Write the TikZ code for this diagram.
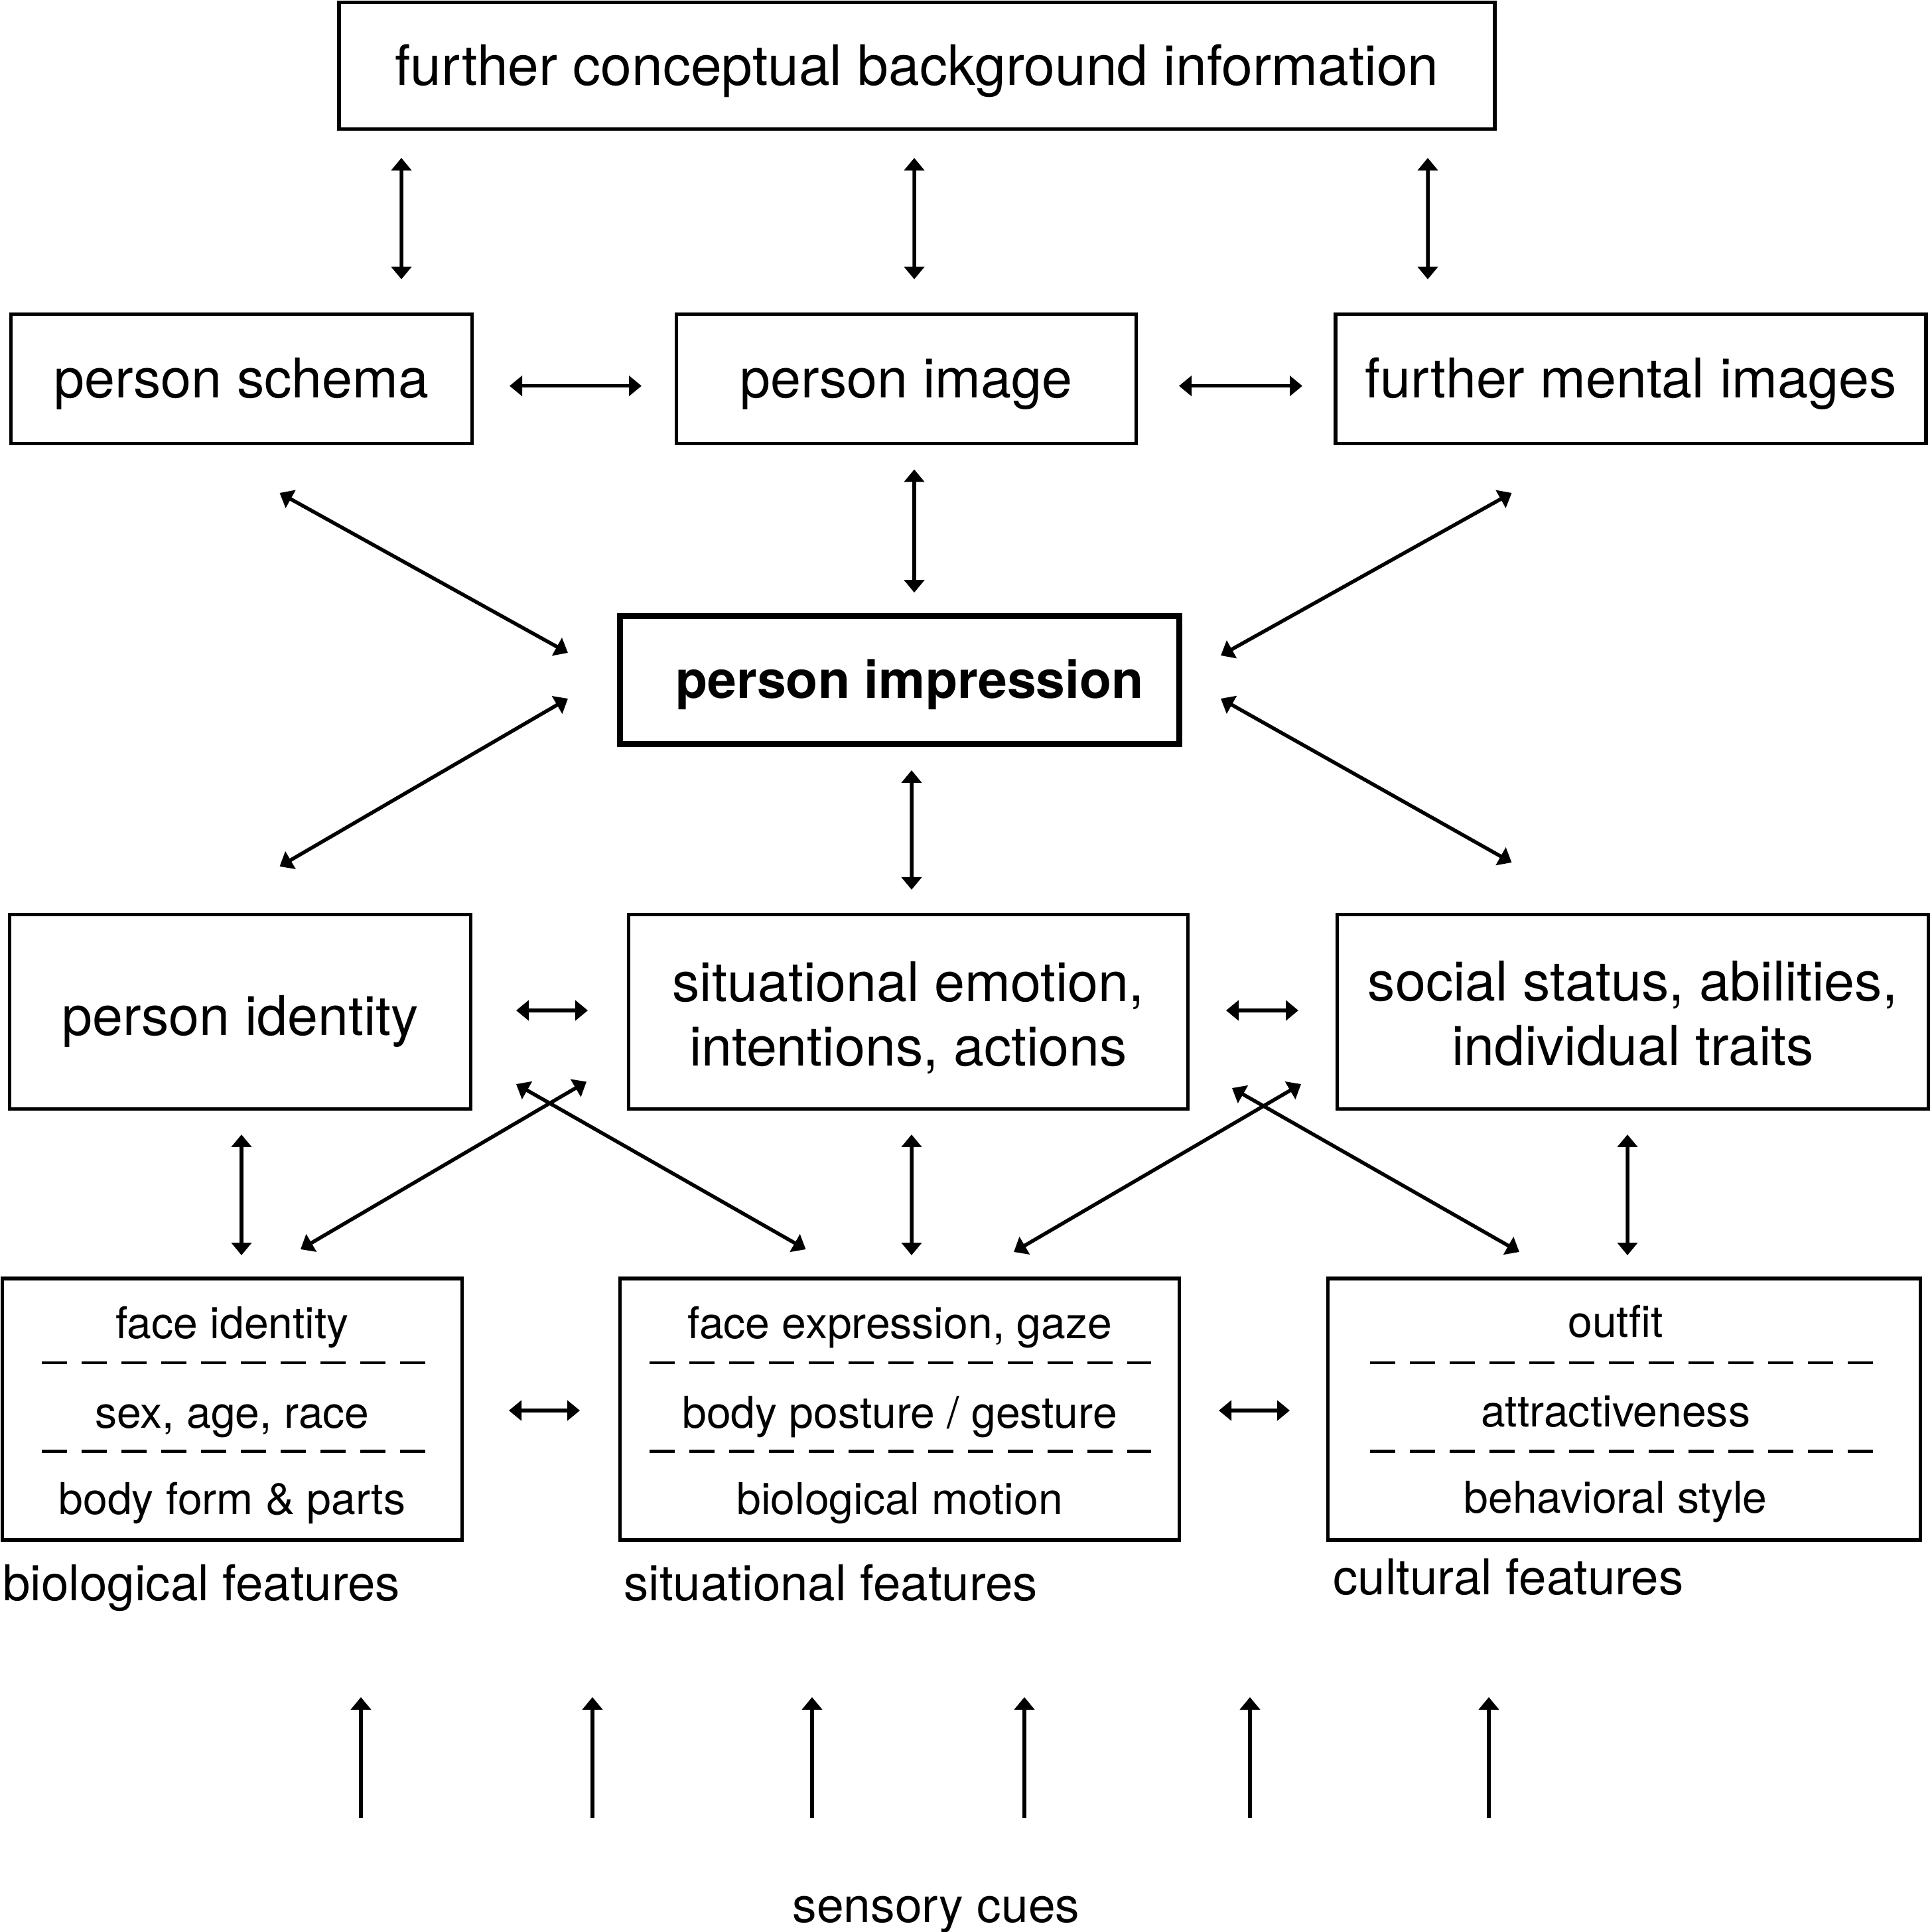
\documentclass[tikz,border=0pt]{standalone}
\usepackage{fontspec}
\setmainfont{TeX Gyre Heros}
\usetikzlibrary{arrows.meta, calc}

\begin{document}
\begin{tikzpicture}[
  box/.style={draw, line width=0.055cm, outer sep=0pt, inner sep=0pt, align=center,
              font=\fontsize{23.5}{27.5}\selectfont, minimum height=1.95cm,
              execute at begin node={\rule{0pt}{0.915em}}},
  big/.style={box, minimum height=2.93cm},
  feat/.style={box, minimum height=3.94cm},
  featitem/.style={font=\fontsize{18.8}{22}\selectfont, text height=0.75em, text depth=0.22em},
  lab/.style={anchor=base west, font=\fontsize{21.2}{25}\selectfont},
  dashsep/.style={line width=0.045cm, dash pattern=on 0.38cm off 0.22cm},
  arr/.style={{Triangle[length=0.19cm,width=0.30cm]}-{Triangle[length=0.19cm,width=0.30cm]}, line width=0.055cm},
  cuearr/.style={-{Triangle[length=0.19cm,width=0.30cm]}, line width=0.055cm}
]
\useasboundingbox (0,0) rectangle (29.12,29.11);

% top row
\node[box, minimum width=17.42cm, minimum height=1.91cm, font=\fontsize{23.9}{28}\selectfont] (top) at (13.82,28.12) {further conceptual background information};
\node[box, minimum width=6.95cm] (sch) at (3.64,23.40) {person schema};
\node[box, minimum width=6.93cm] (img) at (13.66,23.40) {person image};
\node[box, minimum width=8.90cm] (men) at (24.58,23.40) {further mental images};

\node[box, line width=0.085cm, minimum width=8.43cm, minimum height=1.93cm,
      font=\fontsize{22.4}{26}\selectfont\bfseries] (imp) at (13.56,18.86) {\hspace{0.3cm}person impression};

% middle row
\node[big, minimum width=6.95cm] (ide) at (3.62,13.86) {\rule{0pt}{1.08em}person identity};
\node[big, minimum width=8.43cm] (sit) at (13.69,13.86) {\rule{0pt}{0.943em}situational emotion,\\intentions, actions};
\node[big, minimum width=8.91cm] (soc) at (24.61,13.86) {\rule{0pt}{0.79em}social status, abilities,\\individual traits};

% feature boxes
\node[feat, minimum width=6.93cm] (bio) at (3.50,7.87) {};
\node[feat, minimum width=8.43cm] (sfe) at (13.56,7.87) {};
\node[feat, minimum width=8.93cm] (cul) at (24.48,7.87) {};

\node[featitem] (bio1) at ($(bio)+(0,1.16)$) {face identity};
\node[featitem] (bio2) at ($(bio)+(0,-0.19)$) {sex, age, race};
\node[featitem] (bio3) at ($(bio)+(0,-1.49)$) {body form \& parts};
\node[featitem] (sfe1) at ($(sfe)+(0,1.16)$) {face expression, gaze};
\node[featitem] (sfe2) at ($(sfe)+(0,-0.19)$) {body posture / gesture};
\node[featitem] (sfe3) at ($(sfe)+(0,-1.49)$) {biological motion};
\node[featitem] (cul1) at ($(cul)+(-0.13,1.18)$) {outfit};
\node[featitem] (cul2) at ($(cul)+(-0.13,-0.17)$) {attractiveness};
\node[featitem] (cul3) at ($(cul)+(-0.13,-1.47)$) {behavioral style};

\draw[dashsep] ($(bio.west)+(0.595,0.70)$) -- ($(bio.east)+(-0.54,0.70)$);
\draw[dashsep] ($(bio.west)+(0.595,-0.635)$) -- ($(bio.east)+(-0.54,-0.635)$);
\draw[dashsep] ($(sfe.west)+(0.44,0.70)$) -- ($(sfe.east)+(-0.43,0.70)$);
\draw[dashsep] ($(sfe.west)+(0.44,-0.635)$) -- ($(sfe.east)+(-0.43,-0.635)$);
\draw[dashsep] ($(cul.west)+(0.635,0.70)$) -- ($(cul.east)+(-0.72,0.70)$);
\draw[dashsep] ($(cul.west)+(0.635,-0.635)$) -- ($(cul.east)+(-0.72,-0.635)$);

\node[lab] (biolab) at ([shift={(-0.115,-0.91)}]bio.south west) {biological features};
\node[lab] (sfelab) at ([shift={(-0.065,-0.91)}]sfe.south west) {situational features};
\node[lab] (cullab) at ([shift={(-0.045,-0.82)}]cul.south west) {cultural features};

\node[anchor=base, font=\fontsize{20.8}{25}\selectfont] (cues) at (14.11,0.14) {sensory cues};

% arrows
\draw[arr] ([shift={(-7.77,-0.435)}]top.south) -- ([shift={(2.41,0.525)}]sch.north);
\draw[arr] ([shift={(-0.04,-0.435)}]top.south) -- ([shift={(0.12,0.525)}]img.north);
\draw[arr] ([shift={(7.70,-0.435)}]top.south) -- ([shift={(-3.06,0.525)}]men.north);
\draw[arr] ([shift={(0.565,-0.107)}]sch.east) -- ([shift={(-0.525,-0.107)}]img.west);
\draw[arr] ([shift={(0.645,-0.107)}]img.east) -- ([shift={(-0.50,-0.107)}]men.west);
\draw[arr] ([shift={(0.12,-0.39)}]img.south) -- ([shift={(0.22,0.353)}]imp.north);
\draw[arr] ([shift={(0.575,-0.745)}]sch.south) -- ([shift={(-0.785,0.41)}]imp.west);
\draw[arr] ([shift={(-1.795,-0.745)}]men.south) -- ([shift={(0.625,0.37)}]imp.east);
\draw[arr] ([shift={(-0.785,-0.28)}]imp.west) -- ([shift={(0.595,0.725)}]ide.north);
\draw[arr] ([shift={(0.625,-0.28)}]imp.east) -- ([shift={(-1.825,0.785)}]soc.north);
\draw[arr] ([shift={(0.18,-0.395)}]imp.south) -- ([shift={(0.05,0.375)}]sit.north);
\draw[arr] ([shift={(0.685,0.02)}]ide.east) -- ([shift={(-0.615,0.02)}]sit.west);
\draw[arr] ([shift={(0.575,0.02)}]sit.east) -- ([shift={(-0.585,0.02)}]soc.west);
\draw[arr] ([shift={(0.02,-0.385)}]ide.south) -- ([shift={(0.14,0.35)}]bio.north);
\draw[arr] ([shift={(0.05,-0.385)}]sit.south) -- ([shift={(0.18,0.35)}]sfe.north);
\draw[arr] ([shift={(-0.08,-0.385)}]soc.south) -- ([shift={(0.05,0.35)}]cul.north);
\draw[arr] ([shift={(-0.635,0.411)}]sit.south west) -- ([shift={(1.03,0.44)}]bio.north);
\draw[arr] ([shift={(0.685,0.375)}]ide.south east) -- ([shift={(-1.415,0.44)}]sfe.north);
\draw[arr] ([shift={(-0.545,0.375)}]soc.south west) -- ([shift={(1.72,0.40)}]sfe.north);
\draw[arr] ([shift={(0.665,0.315)}]sit.south east) -- ([shift={(-1.58,0.40)}]cul.north);
\draw[arr] ([shift={(0.705,-0.02)}]bio.east) -- ([shift={(-0.605,-0.02)}]sfe.west);
\draw[arr] ([shift={(0.595,-0.02)}]sfe.east) -- ([shift={(-0.575,-0.02)}]cul.west);

% sensory cues
\foreach \dx in {-8.67,-5.18,-1.87,1.33,4.73,8.33}
  \draw[cuearr] ([shift={(\dx,1.57)}]cues.base) -- ++(0,1.82);
\end{tikzpicture}
\end{document}
